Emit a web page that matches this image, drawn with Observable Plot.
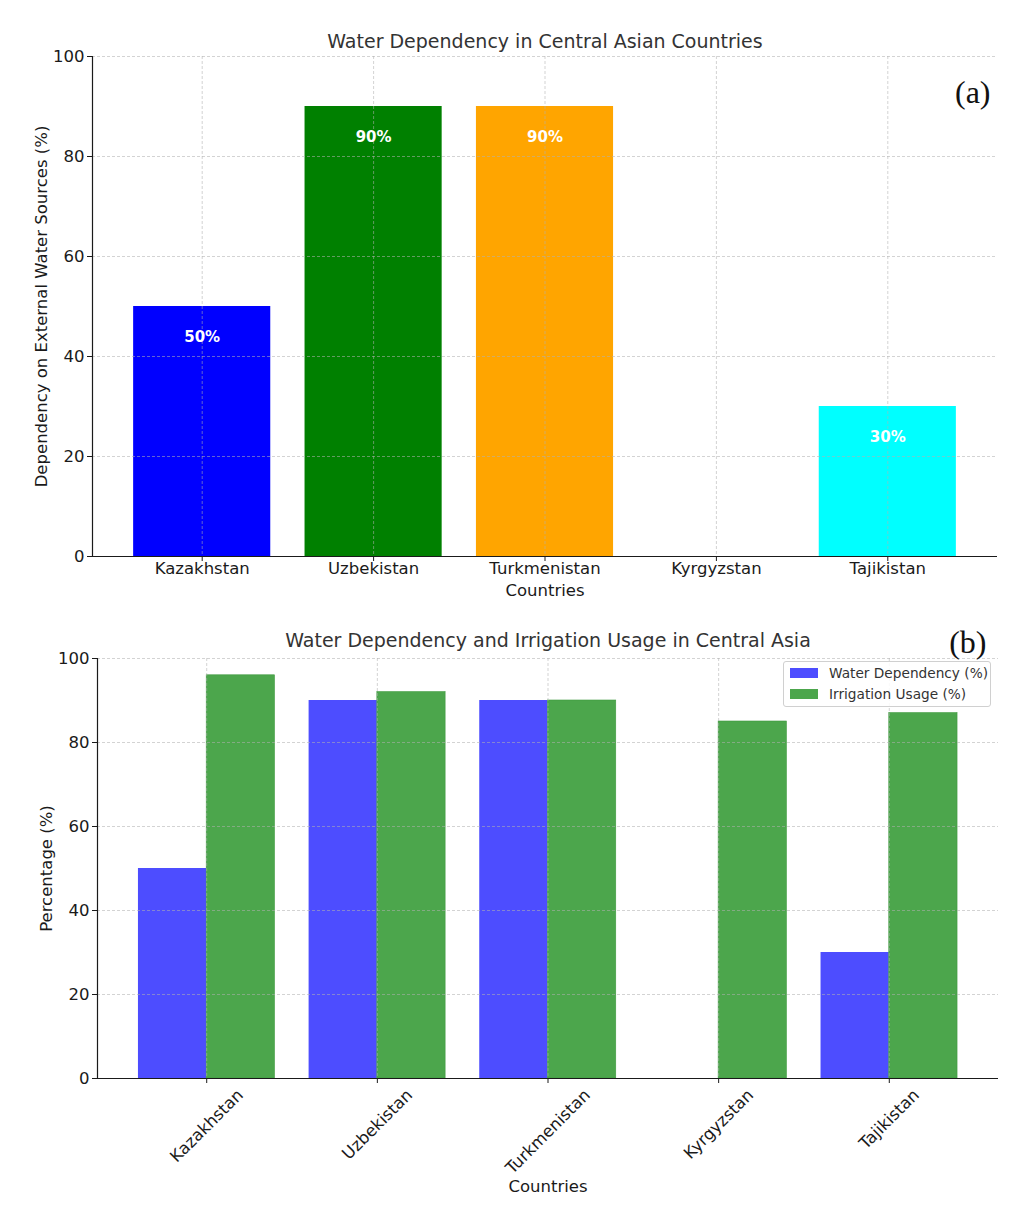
<!DOCTYPE html>
<html>
<head>
<meta charset="utf-8">
<script src="https://cdn.jsdelivr.net/npm/d3@7"></script>
<script src="https://cdn.jsdelivr.net/npm/@observablehq/plot@0.6"></script>
<style>
  body { margin: 0; background: #fff; font-family: "DejaVu Sans", sans-serif; }
  #wrap { position: relative; width: 1030px; height: 1230px; }
  #topChart, #bottomChart { position: absolute; left: 0; }
  #topChart { top: 0; }
  #bottomChart { top: 610px; }
  #legend { position: absolute; left: 783px; top: 661px; width: 206px; height: 44px;
    border: 1px solid #d0d0d0; border-radius: 3px; background: rgba(255,255,255,0.85);
    font-size: 13.7px; color: #333; white-space: nowrap; }
  .row { position: absolute; left: 6px; height: 20px; display: flex; align-items: center; }
  .sw { width: 28px; height: 10px; margin-right: 11px; flex: none; }
</style>
</head>
<body>
<div id="wrap">
  <div id="topChart"></div>
  <div id="bottomChart"></div>
  <div id="legend">
    <div class="row" style="top:1px"><div class="sw" style="background:#4d4dff"></div>Water Dependency (%)</div>
    <div class="row" style="top:22px"><div class="sw" style="background:#4ca64c"></div>Irrigation Usage (%)</div>
  </div>
</div>
<script>
const countries = ["Kazakhstan", "Uzbekistan", "Turkmenistan", "Kyrgyzstan", "Tajikistan"];
const dependency = [50, 90, 90, 0, 30];
const irrigation = [96, 92, 90, 85, 87];
const barColors = ["blue", "green", "orange", "red", "cyan"];
const yTicks = [0, 20, 40, 60, 80, 100];
const xTicks = [0, 1, 2, 3, 4];

const rows = countries.map((c, i) => ({i, country: c, dep: dependency[i], irr: irrigation[i], color: barColors[i]}));
const gridStyle = {stroke: "#b0b0b0", strokeOpacity: 0.7, strokeDasharray: "3,2", strokeWidth: 0.8};
const font = "DejaVu Sans";
const fs = 16.5;

// ---------- Top chart ----------
const chartA = Plot.plot({
  width: 1030, height: 610,
  marginTop: 56, marginLeft: 92, marginRight: 33, marginBottom: 54,
  style: {fontFamily: font, fontSize: fs + "px", color: "#1a1a1a", background: "white"},
  color: {type: "identity"},
  x: {type: "linear", domain: [-0.64, 4.64], ticks: xTicks, tickFormat: i => countries[i], tickSize: 5, tickPadding: 1, label: null},
  y: {domain: [0, 100], ticks: yTicks, tickSize: 5, tickPadding: 3, label: null},
  marks: [
    Plot.rectY(rows.filter(d => d.dep > 0), {x1: d => d.i - 0.4, x2: d => d.i + 0.4, y1: 0, y2: "dep", fill: "color"}),
    Plot.ruleX(xTicks, gridStyle),
    Plot.ruleY(yTicks.filter(v => v > 0), gridStyle),
    Plot.text(rows.filter(d => d.dep > 0), {x: "i", y: d => d.dep - 5, text: d => d.dep + "%", fill: "white", fontWeight: "bold", fontSize: 15, lineAnchor: "top"}),
    Plot.ruleY([0], {stroke: "#1a1a1a", strokeWidth: 1.2}),
    Plot.ruleX([-0.64], {stroke: "#1a1a1a", strokeWidth: 1.2}),
    Plot.text(["Water Dependency in Central Asian Countries"], {frameAnchor: "top", lineAnchor: "middle", dy: -15, fontSize: 19, fill: "#333"}),
    Plot.text(["Countries"], {frameAnchor: "bottom", lineAnchor: "middle", dy: 34, fontSize: fs, fill: "#1a1a1a"}),
    Plot.text(["Dependency on External Water Sources (%)"], {frameAnchor: "left", textAnchor: "middle", lineAnchor: "middle", dx: -51, rotate: -90, fontSize: fs, fill: "#1a1a1a"}),
    Plot.text(["(a)"], {frameAnchor: "top-right", lineAnchor: "middle", dx: -7, dy: 36, fontSize: 32, fontFamily: "Liberation Serif", fill: "#111"})
  ]
});
document.getElementById("topChart").appendChild(chartA);

// ---------- Bottom chart ----------
const ctx = document.createElement("canvas").getContext("2d");
ctx.font = fs + "px 'DejaVu Sans'";
const lineH = fs * 1.17;
const labelMarks = countries.map((c, i) => {
  const w = ctx.measureText(c).width;
  const H = (w + lineH) * Math.SQRT1_2;
  return Plot.text([c], {x: i, y: 0, dy: 7 + H / 2, rotate: -45, textAnchor: "middle", lineAnchor: "middle", fontSize: fs, fill: "#1a1a1a"});
});

const chartB = Plot.plot({
  width: 1030, height: 620,
  marginTop: 48, marginLeft: 97, marginRight: 32, marginBottom: 152,
  style: {fontFamily: font, fontSize: fs + "px", color: "#1a1a1a", background: "white"},
  x: {type: "linear", domain: [-0.64, 4.64], ticks: xTicks, tickFormat: () => "", tickSize: 5, label: null},
  y: {domain: [0, 100], ticks: yTicks, tickSize: 5, tickPadding: 3, label: null},
  marks: [
    Plot.rectY(rows.filter(d => d.dep > 0), {x1: d => d.i - 0.4, x2: d => d.i, y1: 0, y2: "dep", fill: "#4d4dff"}),
    Plot.rectY(rows, {x1: d => d.i, x2: d => d.i + 0.4, y1: 0, y2: "irr", fill: "#4ca64c", stroke: "#3f9a3f", strokeWidth: 0.6}),
    Plot.ruleX(xTicks, gridStyle),
    Plot.ruleY(yTicks.filter(v => v > 0), gridStyle),
    Plot.ruleY([0], {stroke: "#1a1a1a", strokeWidth: 1.2}),
    Plot.ruleX([-0.64], {stroke: "#1a1a1a", strokeWidth: 1.2}),
    ...labelMarks,
    Plot.text(["Water Dependency and Irrigation Usage in Central Asia"], {frameAnchor: "top", lineAnchor: "middle", dy: -18, fontSize: 19, fill: "#333"}),
    Plot.text(["Countries"], {frameAnchor: "bottom", lineAnchor: "middle", dy: 108, fontSize: fs, fill: "#1a1a1a"}),
    Plot.text(["Percentage (%)"], {frameAnchor: "left", textAnchor: "middle", lineAnchor: "middle", dx: -51, rotate: -90, fontSize: fs, fill: "#1a1a1a"}),
    Plot.text(["(b)"], {frameAnchor: "top-right", lineAnchor: "middle", dx: -12, dy: -16, fontSize: 32, fontFamily: "Liberation Serif", fill: "#111"})
  ]
});
document.getElementById("bottomChart").appendChild(chartB);
</script>
</body>
</html>
